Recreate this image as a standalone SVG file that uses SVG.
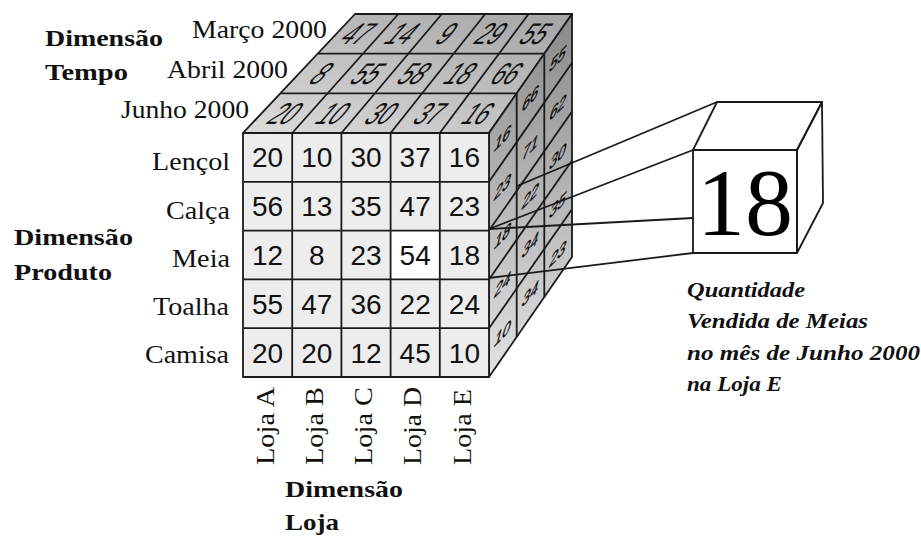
<svg xmlns="http://www.w3.org/2000/svg" width="921" height="538" viewBox="0 0 921 538">
<defs>
<linearGradient id="gTop" x1="0" y1="1" x2="1" y2="0">
<stop offset="0" stop-color="#dcdcdc"/>
<stop offset="1" stop-color="#a4a4a4"/>
</linearGradient>
<linearGradient id="gRight" gradientUnits="userSpaceOnUse" x1="0" y1="14" x2="0" y2="377">
<stop offset="0" stop-color="#8a8a8a"/>
<stop offset="1" stop-color="#e2e2e2"/>
</linearGradient>
</defs>
<style>
.ln{stroke:#1a1a1a;stroke-width:1.8;fill:none;stroke-linejoin:round}
.fc{fill:#ededed}
.fn{font-family:"Liberation Sans",Arial,sans-serif;font-size:28px;fill:#111;text-anchor:middle}
.tn{font-family:"Liberation Sans",Arial,sans-serif;font-size:30px;fill:#111;text-anchor:middle}
.rn{font-family:"Liberation Sans",Arial,sans-serif;font-size:24px;fill:#000;stroke:#000;stroke-width:0.4;text-anchor:middle}
.lb{font-family:"Liberation Serif","Times New Roman",serif;font-size:26px;fill:#111}
.bd{font-family:"Liberation Serif","Times New Roman",serif;font-size:23px;font-weight:bold;fill:#111}
.cap{font-family:"Liberation Serif","Times New Roman",serif;font-size:21px;font-weight:bold;font-style:italic;fill:#111}
.big{font-family:"Liberation Serif","Times New Roman",serif;font-size:96px;fill:#000;text-anchor:middle}
.cn{stroke:#1a1a1a;stroke-width:1.8;fill:none}
</style>

<g id="cube">
<g id="top-face">
<polygon points="243,133 489,133 572,14 355,14" fill="url(#gTop)"/>
<g class="ln">
<polygon points="243,133 489,133 572,14 355,14"/>
<line x1="280.3" y1="93.3" x2="516.7" y2="93.3"/>
<line x1="317.7" y1="53.7" x2="544.3" y2="53.7"/>
<line x1="292.2" y1="133" x2="398.4" y2="14"/>
<line x1="341.4" y1="133" x2="441.8" y2="14"/>
<line x1="390.6" y1="133" x2="485.2" y2="14"/>
<line x1="439.8" y1="133" x2="528.6" y2="14"/>
</g>
<text class="tn" transform="translate(285.8,113.2) skewX(-42.5) scale(0.72,1)" y="10.5">20</text>
<text class="tn" transform="translate(334,113.2) skewX(-41) scale(0.72,1)" y="10.5">10</text>
<text class="tn" transform="translate(382.3,113.2) skewX(-39.3) scale(0.72,1)" y="10.5">30</text>
<text class="tn" transform="translate(430.5,113.2) skewX(-37.6) scale(0.72,1)" y="10.5">37</text>
<text class="tn" transform="translate(478.7,113.2) skewX(-35.8) scale(0.72,1)" y="10.5">16</text>
<text class="tn" transform="translate(322.2,73.5) skewX(-42.5) scale(0.72,1)" y="10.5">8</text>
<text class="tn" transform="translate(368.5,73.5) skewX(-41) scale(0.72,1)" y="10.5">55</text>
<text class="tn" transform="translate(414.8,73.5) skewX(-39.3) scale(0.72,1)" y="10.5">58</text>
<text class="tn" transform="translate(461.1,73.5) skewX(-37.6) scale(0.72,1)" y="10.5">18</text>
<text class="tn" transform="translate(507.4,73.5) skewX(-35.8) scale(0.72,1)" y="10.5">66</text>
<text class="tn" transform="translate(358.5,33.8) skewX(-42.5) scale(0.72,1)" y="10.5">47</text>
<text class="tn" transform="translate(402.9,33.8) skewX(-41) scale(0.72,1)" y="10.5">14</text>
<text class="tn" transform="translate(447.3,33.8) skewX(-39.3) scale(0.72,1)" y="10.5">9</text>
<text class="tn" transform="translate(491.6,33.8) skewX(-37.6) scale(0.72,1)" y="10.5">29</text>
<text class="tn" transform="translate(536,33.8) skewX(-35.8) scale(0.72,1)" y="10.5">55</text>
</g>

<g id="right-face">
<polygon points="489,133 572,14 572,257 489,377" fill="url(#gRight)"/>
<g class="ln">
<polygon points="489,133 572,14 572,257 489,377"/>
<line x1="516.7" y1="93.3" x2="516.7" y2="337.3"/>
<line x1="544.3" y1="53.7" x2="544.3" y2="297.7"/>
<line x1="489" y1="181.8" x2="572" y2="62.8"/>
<line x1="489" y1="230.6" x2="572" y2="111.6"/>
<line x1="489" y1="279.4" x2="572" y2="160.4"/>
<line x1="489" y1="328.2" x2="572" y2="209.2"/>
</g>
<text class="rn" transform="matrix(0.6,-0.6,-0.22,0.85,502.8,137.6)" y="8.5">16</text>
<text class="rn" transform="matrix(0.6,-0.6,-0.22,0.85,502.8,186.4)" y="8.5">23</text>
<text class="rn" transform="matrix(0.6,-0.6,-0.22,0.85,502.8,235.2)" y="8.5">18</text>
<text class="rn" transform="matrix(0.6,-0.6,-0.22,0.85,502.8,284)" y="8.5">24</text>
<text class="rn" transform="matrix(0.6,-0.6,-0.22,0.85,502.8,332.8)" y="8.5">10</text>
<text class="rn" transform="matrix(0.6,-0.6,-0.22,0.85,530.5,97.9)" y="8.5">66</text>
<text class="rn" transform="matrix(0.6,-0.6,-0.22,0.85,530.5,146.7)" y="8.5">71</text>
<text class="rn" transform="matrix(0.6,-0.6,-0.22,0.85,530.5,195.5)" y="8.5">22</text>
<text class="rn" transform="matrix(0.6,-0.6,-0.22,0.85,530.5,244.3)" y="8.5">34</text>
<text class="rn" transform="matrix(0.6,-0.6,-0.22,0.85,530.5,293.1)" y="8.5">34</text>
<text class="rn" transform="matrix(0.6,-0.6,-0.22,0.85,558.2,58.2)" y="8.5">55</text>
<text class="rn" transform="matrix(0.6,-0.6,-0.22,0.85,558.2,107)" y="8.5">62</text>
<text class="rn" transform="matrix(0.6,-0.6,-0.22,0.85,558.2,155.8)" y="8.5">30</text>
<text class="rn" transform="matrix(0.6,-0.6,-0.22,0.85,558.2,204.6)" y="8.5">35</text>
<text class="rn" transform="matrix(0.6,-0.6,-0.22,0.85,558.2,253.4)" y="8.5">23</text>
</g>

<g id="front-face">
<rect class="fc" x="243" y="133" width="246" height="244"/>
<rect x="390.6" y="230.6" width="49.2" height="48.8" fill="#ffffff"/>
<g class="ln">
<rect x="243" y="133" width="246" height="244"/>
<line x1="292.2" y1="133" x2="292.2" y2="377"/>
<line x1="341.4" y1="133" x2="341.4" y2="377"/>
<line x1="390.6" y1="133" x2="390.6" y2="377"/>
<line x1="439.8" y1="133" x2="439.8" y2="377"/>
<line x1="243" y1="181.8" x2="489" y2="181.8"/>
<line x1="243" y1="230.6" x2="489" y2="230.6"/>
<line x1="243" y1="279.4" x2="489" y2="279.4"/>
<line x1="243" y1="328.2" x2="489" y2="328.2"/>
</g>
<text class="fn" x="267.6" y="167.4">20</text><text class="fn" x="316.8" y="167.4">10</text><text class="fn" x="366" y="167.4">30</text><text class="fn" x="415.2" y="167.4">37</text><text class="fn" x="464.4" y="167.4">16</text>
<text class="fn" x="267.6" y="216.2">56</text><text class="fn" x="316.8" y="216.2">13</text><text class="fn" x="366" y="216.2">35</text><text class="fn" x="415.2" y="216.2">47</text><text class="fn" x="464.4" y="216.2">23</text>
<text class="fn" x="267.6" y="265">12</text><text class="fn" x="316.8" y="265">8</text><text class="fn" x="366" y="265">23</text><text class="fn" x="415.2" y="265">54</text><text class="fn" x="464.4" y="265">18</text>
<text class="fn" x="267.6" y="313.8">55</text><text class="fn" x="316.8" y="313.8">47</text><text class="fn" x="366" y="313.8">36</text><text class="fn" x="415.2" y="313.8">22</text><text class="fn" x="464.4" y="313.8">24</text>
<text class="fn" x="267.6" y="362.6">20</text><text class="fn" x="316.8" y="362.6">20</text><text class="fn" x="366" y="362.6">12</text><text class="fn" x="415.2" y="362.6">45</text><text class="fn" x="464.4" y="362.6">10</text>
</g>
</g>

<g id="time-labels">
<text class="lb" x="192" y="38" textLength="135" lengthAdjust="spacingAndGlyphs">Março 2000</text>
<text class="lb" x="167" y="78" textLength="121" lengthAdjust="spacingAndGlyphs">Abril 2000</text>
<text class="lb" x="121" y="118" textLength="128" lengthAdjust="spacingAndGlyphs">Junho 2000</text>
</g>

<g id="product-labels">
<text class="lb" x="152" y="170" textLength="78" lengthAdjust="spacingAndGlyphs">Lençol</text>
<text class="lb" x="166" y="219" textLength="64" lengthAdjust="spacingAndGlyphs">Calça</text>
<text class="lb" x="172" y="267" textLength="58" lengthAdjust="spacingAndGlyphs">Meia</text>
<text class="lb" x="153" y="315" textLength="76" lengthAdjust="spacingAndGlyphs">Toalha</text>
<text class="lb" x="145" y="363" textLength="84" lengthAdjust="spacingAndGlyphs">Camisa</text>
</g>

<g id="store-labels">
<text class="lb" transform="translate(274,465) rotate(-90)" textLength="78" lengthAdjust="spacingAndGlyphs">Loja A</text>
<text class="lb" transform="translate(323,465) rotate(-90)" textLength="78" lengthAdjust="spacingAndGlyphs">Loja B</text>
<text class="lb" transform="translate(372,465) rotate(-90)" textLength="78" lengthAdjust="spacingAndGlyphs">Loja C</text>
<text class="lb" transform="translate(421,465) rotate(-90)" textLength="78" lengthAdjust="spacingAndGlyphs">Loja D</text>
<text class="lb" transform="translate(471,465) rotate(-90)" textLength="76" lengthAdjust="spacingAndGlyphs">Loja E</text>
</g>

<g id="dimension-titles">
<text class="bd" x="45" y="46" textLength="118" lengthAdjust="spacingAndGlyphs">Dimensão</text>
<text class="bd" x="45" y="80" textLength="83" lengthAdjust="spacingAndGlyphs">Tempo</text>
<text class="bd" x="14" y="245" textLength="119" lengthAdjust="spacingAndGlyphs">Dimensão</text>
<text class="bd" x="14" y="280" textLength="98" lengthAdjust="spacingAndGlyphs">Produto</text>
<text class="bd" x="285" y="497" textLength="118" lengthAdjust="spacingAndGlyphs">Dimensão</text>
<text class="bd" x="285" y="530" textLength="54" lengthAdjust="spacingAndGlyphs">Loja</text>
</g>

<g id="connectors">
<line class="cn" x1="517" y1="186" x2="717" y2="102"/>
<line class="cn" x1="489" y1="229" x2="693" y2="150"/>
<line class="cn" x1="489" y1="229" x2="693" y2="218"/>
<line class="cn" x1="489" y1="278" x2="693" y2="253"/>
</g>

<g id="detail-cube">
<polygon class="ln" points="693,150 717,102 822,102 797,150" fill="#ffffff"/>
<polygon class="ln" points="797,150 822,102 823,203 797,253" fill="#ffffff"/>
<rect class="ln" x="693" y="150" width="104" height="103" fill="#ffffff"/>
<text class="big" x="745" y="235">18</text>
</g>

<g id="caption">
<text class="cap" x="687" y="297" textLength="118" lengthAdjust="spacingAndGlyphs">Quantidade</text>
<text class="cap" x="687" y="328" textLength="181" lengthAdjust="spacingAndGlyphs">Vendida de Meias</text>
<text class="cap" x="687" y="360" textLength="233" lengthAdjust="spacingAndGlyphs">no mês de Junho 2000</text>
<text class="cap" x="687" y="391" textLength="95" lengthAdjust="spacingAndGlyphs">na Loja E</text>
</g>
</svg>
